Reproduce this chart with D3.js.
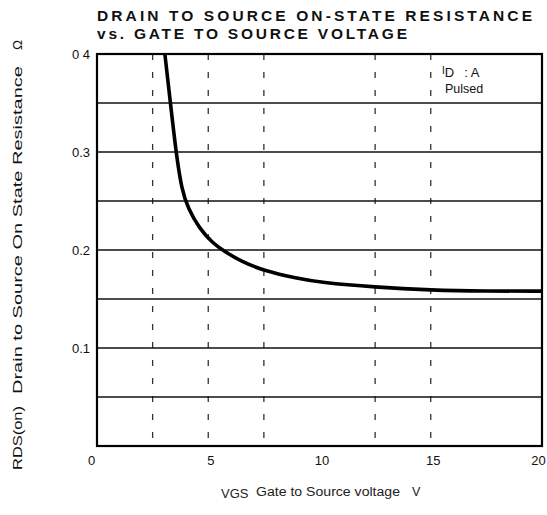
<!DOCTYPE html>
<html><head><meta charset="utf-8">
<script src="https://cdn.jsdelivr.net/npm/d3@7"></script>
<style>body{margin:0;background:#fff}svg{display:block}</style>
</head><body>
<script>
// Data
const vgs = [3.05, 3.3, 3.55, 3.8, 4.1, 4.6, 5.2, 5.7, 6.5, 7.5, 9, 10, 12.5, 15, 17.5, 20];
const rds = [0.4, 0.35, 0.3, 0.262, 0.242, 0.222, 0.207, 0.199, 0.188, 0.179, 0.171, 0.167, 0.162, 0.159, 0.158, 0.158];
const yGrid = [0.05, 0.1, 0.15, 0.2, 0.25, 0.3, 0.35];
const xDashed = [2.5, 5, 7.5, 12.5, 15];
const yTicks = [0.1, 0.2, 0.3, 0.4];
const yTickLabels = ["0.1", "0.2", "0.3", "0 4"];
const xTicks = [0, 5, 10, 15, 20];
const titleLines = ["DRAIN TO SOURCE ON-STATE RESISTANCE", "vs. GATE TO SOURCE VOLTAGE"];

const W = 547, H = 515;
const m = {l: 97, r: 542, t: 54, b: 446};
const svg = d3.select("body").append("svg").attr("width", W).attr("height", H);
const x = d3.scaleLinear().domain([0, 20]).range([m.l, m.r]);
const y = d3.scaleLinear().domain([0, 0.4]).range([m.b, m.t]);

// dashed verticals
svg.append("g").selectAll("line").data(xDashed).join("line")
  .attr("x1", d => x(d)).attr("x2", d => x(d)).attr("y1", m.t).attr("y2", m.b)
  .attr("stroke", "#333").attr("stroke-width", 1.3).attr("stroke-dasharray", "6,12");

// horizontal grid
svg.append("g").selectAll("line").data(yGrid).join("line")
  .attr("x1", m.l).attr("x2", m.r).attr("y1", d => y(d)).attr("y2", d => y(d))
  .attr("stroke", "#111").attr("stroke-width", 1.6);

// frame
svg.append("rect").attr("x", m.l).attr("y", m.t).attr("width", m.r - m.l).attr("height", m.b - m.t)
  .attr("fill", "none").attr("stroke", "#000").attr("stroke-width", 2.2);

// curve
const line = d3.line().x((d, i) => x(vgs[i])).y(d => y(d)).curve(d3.curveBasis);
svg.append("path").datum(rds).attr("d", line).attr("fill", "none")
  .attr("stroke", "#000").attr("stroke-width", 3.6);

// axes (labels only)
const tf = "Liberation Sans, Arial, sans-serif";
const yAxis = d3.axisLeft(y).tickValues(yTicks).tickSize(0).tickPadding(5)
  .tickFormat((d, i) => yTickLabels[i]);
const gy = svg.append("g").attr("transform", `translate(${m.l - 2},0)`).call(yAxis);
gy.select(".domain").remove();
gy.selectAll("text").attr("font-family", tf).attr("font-size", 13).attr("fill", "#111");

const xAxis = d3.axisBottom(x).tickValues(xTicks).tickSize(0).tickPadding(10)
  .tickFormat(d3.format("d"));
const gx = svg.append("g").attr("transform", `translate(0,${m.b})`).call(xAxis);
gx.select(".domain").remove();
gx.selectAll("text").attr("font-family", tf).attr("font-size", 13).attr("fill", "#111")
  .attr("x", d => d === 0 ? -6 : (d === 20 ? -4 : 2));

// title
svg.append("text").attr("x", 97).attr("y", 21).attr("font-family", tf).attr("font-weight", "bold")
  .attr("font-size", 15.5).attr("textLength", 435).attr("lengthAdjust", "spacing")
  .attr("fill", "#111").text(titleLines[0]);
svg.append("text").attr("x", 97).attr("y", 39).attr("font-family", tf).attr("font-weight", "bold")
  .attr("font-size", 15.5).attr("textLength", 310).attr("lengthAdjust", "spacing")
  .attr("fill", "#111").text(titleLines[1]);

// legend
const lg = svg.append("text").attr("x", 442).attr("y", 77).attr("font-family", tf)
  .attr("font-size", 13).attr("fill", "#111");
lg.append("tspan").attr("font-size", 10).attr("dy", -3).text("I");
lg.append("tspan").attr("dy", 3).text("D");
lg.append("tspan").attr("dx", 10).text(":  A");
svg.append("text").attr("x", 445).attr("y", 93).attr("font-family", tf)
  .attr("font-size", 12.5).attr("fill", "#111").text("Pulsed");

// y axis title
const yt = svg.append("g").attr("font-family", tf).attr("font-size", 13.5).attr("fill", "#111");
yt.append("text").attr("transform", "translate(22,470) rotate(-90)").attr("textLength", 64)
  .attr("lengthAdjust", "spacingAndGlyphs").text("RDS(on)");
yt.append("text").attr("transform", "translate(22,394) rotate(-90)").attr("textLength", 328)
  .attr("lengthAdjust", "spacingAndGlyphs").text("Drain to Source On State Resistance");
yt.append("text").attr("transform", "translate(22,50) rotate(-90)").text("Ω");

// x axis title
const xt = svg.append("g").attr("font-family", tf).attr("font-size", 12.5).attr("fill", "#222");
xt.append("text").attr("x", 221).attr("y", 498).attr("font-size", 13).text("VGS");
xt.append("text").attr("x", 256).attr("y", 496).attr("textLength", 144)
  .attr("lengthAdjust", "spacingAndGlyphs").text("Gate to Source voltage");
xt.append("text").attr("x", 412).attr("y", 496).text("V");
</script>
</body></html>
